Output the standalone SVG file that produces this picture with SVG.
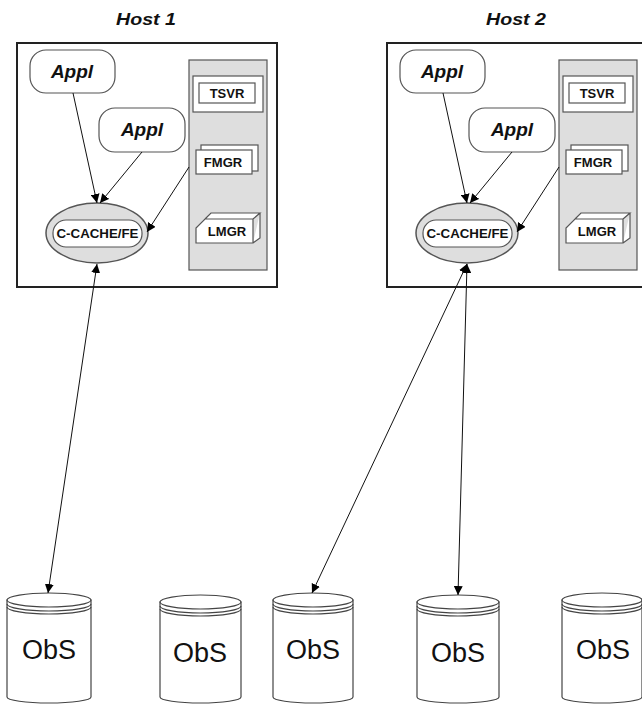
<svg xmlns="http://www.w3.org/2000/svg" width="642" height="704" viewBox="0 0 642 704">
<defs>
<marker id="ah" viewBox="0 0 10 10" refX="10" refY="5" markerWidth="9" markerHeight="9" markerUnits="userSpaceOnUse" orient="auto-start-reverse">
<path d="M0,0 L10,5 L0,10 z" fill="#000"/>
</marker>
<style>
.host{fill:#fff;stroke:#222;stroke-width:2}
.panel{fill:#dedede;stroke:#555;stroke-width:1.2}
.box{fill:#fff;stroke:#555;stroke-width:1.2}
.appl{fill:#fff;stroke:#555;stroke-width:1.2}
.ell{fill:#dedede;stroke:#555;stroke-width:1.5}
.lbl{font-family:"Liberation Sans",Arial,sans-serif;font-weight:bold;text-anchor:middle;fill:#111}
.ht{font-size:17px;font-style:italic}
.at{font-size:19px;font-style:italic}
.st{font-size:13px}
.ct{font-size:13px}
.cyl{fill:#fff;stroke:#444;stroke-width:1.2}
.obs{font-family:"Liberation Sans",Arial,sans-serif;font-size:27px;text-anchor:middle;fill:#111}
.con{stroke:#111;stroke-width:1;fill:none}
</style>
</defs>
<rect width="642" height="704" fill="#fff"/>

<g id="host1">
<text class="lbl ht" x="146" y="25" textLength="60" lengthAdjust="spacingAndGlyphs">Host 1</text>
<rect class="host" x="17" y="43" width="260" height="244"/>
<rect class="panel" x="189" y="60" width="78" height="210"/>
</g>
<g id="host2">
<text class="lbl ht" x="516" y="25" textLength="60" lengthAdjust="spacingAndGlyphs">Host 2</text>
<rect class="host" x="387" y="43" width="260" height="244"/>
<rect class="panel" x="559" y="60" width="78" height="210"/>
</g>

<g id="h1-appl1"><rect class="appl" x="30" y="50" width="85" height="43" rx="16"/><text class="lbl at" x="72" y="78">Appl</text></g>
<g id="h1-appl2"><rect class="appl" x="99" y="108" width="86" height="44" rx="16"/><text class="lbl at" x="142" y="136">Appl</text></g>
<g id="h1-tsvr"><rect class="box" x="193" y="76" width="70" height="36"/><rect class="box" x="199" y="83" width="56" height="20"/><text class="lbl st" x="227" y="98">TSVR</text></g>
<g id="h1-fmgr"><rect class="box" x="201" y="145" width="57" height="26"/><rect class="box" x="196" y="150" width="56" height="24"/><text class="lbl st" x="223" y="167">FMGR</text></g>
<g id="h1-lmgr"><path class="box" d="M196,243 L196,228 L205,219 L253,219 L253,243 Z M205,219 L211,213 L260,213 L253,219 M253,243 L260,238 L260,213"/><text class="lbl st" x="227" y="236">LMGR</text></g>
<g id="h1-cache"><ellipse class="ell" cx="97" cy="233" rx="51" ry="30"/><rect class="box" x="53" y="220" width="89" height="27" rx="13"/><text class="lbl ct" x="97.5" y="238" textLength="82" lengthAdjust="spacingAndGlyphs">C-CACHE/FE</text></g>

<g id="h2-appl1"><rect class="appl" x="400" y="50" width="85" height="43" rx="16"/><text class="lbl at" x="442" y="78">Appl</text></g>
<g id="h2-appl2"><rect class="appl" x="469" y="108" width="86" height="44" rx="16"/><text class="lbl at" x="512" y="136">Appl</text></g>
<g id="h2-tsvr"><rect class="box" x="563" y="76" width="70" height="36"/><rect class="box" x="569" y="83" width="56" height="20"/><text class="lbl st" x="597" y="98">TSVR</text></g>
<g id="h2-fmgr"><rect class="box" x="571" y="145" width="57" height="26"/><rect class="box" x="566" y="150" width="56" height="24"/><text class="lbl st" x="593" y="167">FMGR</text></g>
<g id="h2-lmgr"><path class="box" d="M566,243 L566,228 L575,219 L623,219 L623,243 Z M575,219 L581,213 L630,213 L623,219 M623,243 L630,238 L630,213"/><text class="lbl st" x="597" y="236">LMGR</text></g>
<g id="h2-cache"><ellipse class="ell" cx="467" cy="233" rx="51" ry="30"/><rect class="box" x="423" y="220" width="89" height="27" rx="13"/><text class="lbl ct" x="467.5" y="238" textLength="82" lengthAdjust="spacingAndGlyphs">C-CACHE/FE</text></g>

<g id="obs1"><path class="cyl" d="M7,600 L7,697 A42,6 0 0 0 91,697 L91,600 Z"/><ellipse class="cyl" cx="49" cy="600" rx="42" ry="7"/><path class="cyl" d="M7,604 A42,7 0 0 0 91,604 M7,607 A42,7 0 0 0 91,607" style="fill:none"/><text class="obs" x="49" y="659">ObS</text></g>
<g id="obs2"><path class="cyl" d="M160,602 L160,697 A40.5,6 0 0 0 241,697 L241,602 Z"/><ellipse class="cyl" cx="200.5" cy="602" rx="40.5" ry="7"/><path class="cyl" d="M160,606 A40.5,7 0 0 0 241,606 M160,609 A40.5,7 0 0 0 241,609" style="fill:none"/><text class="obs" x="200" y="662">ObS</text></g>
<g id="obs3"><path class="cyl" d="M273,600 L273,697 A40,6 0 0 0 353,697 L353,600 Z"/><ellipse class="cyl" cx="313" cy="600" rx="40" ry="7"/><path class="cyl" d="M273,604 A40,7 0 0 0 353,604 M273,607 A40,7 0 0 0 353,607" style="fill:none"/><text class="obs" x="313" y="659">ObS</text></g>
<g id="obs4"><path class="cyl" d="M417,602 L417,697 A41,6 0 0 0 499,697 L499,602 Z"/><ellipse class="cyl" cx="458" cy="602" rx="41" ry="7"/><path class="cyl" d="M417,606 A41,7 0 0 0 499,606 M417,609 A41,7 0 0 0 499,609" style="fill:none"/><text class="obs" x="458" y="662">ObS</text></g>
<g id="obs5"><path class="cyl" d="M562,600 L562,697 A40,6 0 0 0 642,697 L642,600 Z"/><ellipse class="cyl" cx="602" cy="600" rx="40" ry="7"/><path class="cyl" d="M562,604 A40,7 0 0 0 642,604 M562,607 A40,7 0 0 0 642,607" style="fill:none"/><text class="obs" x="603" y="659">ObS</text></g>

<g id="connectors">
<line class="con" x1="73" y1="93" x2="97" y2="203" marker-end="url(#ah)"/>
<line class="con" x1="142" y1="152" x2="100" y2="203" marker-end="url(#ah)"/>
<line class="con" x1="189" y1="167" x2="147" y2="232" marker-end="url(#ah)"/>
<line class="con" x1="97" y1="264" x2="48" y2="593" marker-start="url(#ah)" marker-end="url(#ah)"/>
<line class="con" x1="443" y1="93" x2="467" y2="203" marker-end="url(#ah)"/>
<line class="con" x1="512" y1="152" x2="470" y2="203" marker-end="url(#ah)"/>
<line class="con" x1="559" y1="167" x2="517" y2="232" marker-end="url(#ah)"/>
<line class="con" x1="467" y1="264" x2="312" y2="593" marker-start="url(#ah)" marker-end="url(#ah)"/>
<line class="con" x1="467" y1="264" x2="458" y2="595" marker-start="url(#ah)" marker-end="url(#ah)"/>
</g>
</svg>
